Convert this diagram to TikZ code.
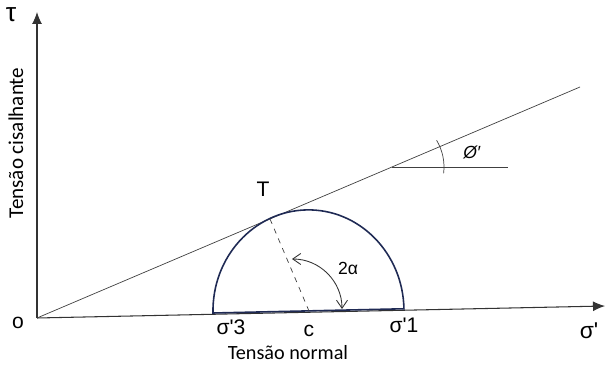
\documentclass[tikz,border=0pt]{standalone}
\usepackage{fontspec}
\setmainfont{Liberation Sans}
\newfontfamily\calib{Carlito}
\usepackage{tikz}
\usetikzlibrary{positioning,arrows.meta,calc}

\begin{document}
\begin{tikzpicture}[
      x=0.02cm, y=0.02cm,
      font=\fontsize{11}{13}\selectfont,
      axis/.style={line width=0.6pt, black!80, -{Latex[length=2.4mm,width=2mm]}},
      thin line/.style={line width=0.4pt, black!75},
      circ/.style={line width=0.9pt, mohrblue},
      barb/.style={line width=0.5pt, black!80, {Straight Barb[length=1.6mm,width=2.2mm]}-{Straight Barb[length=1.6mm,width=2.2mm]}},
      lbl/.style={inner sep=1pt},
    ]
    \definecolor{mohrblue}{RGB}{31,42,84}
    \useasboundingbox (0,0) rectangle (606,365);

    \coordinate (O)    at (37,47);
    \coordinate (ytop) at (37,353);
    \coordinate (xend) at (605,59);
    \coordinate (fend) at (580,278);
    \coordinate (s3)   at (213,52);
    \coordinate (s1)   at (404,56);
    \coordinate (c)    at (309,54);
    \coordinate (T)    at (270,146);
    \coordinate (a1)   at (292,106);
    \coordinate (a2)   at (342,56);
    \coordinate (P)    at (392,198);
    \coordinate (hend) at (508,198);

    \draw[axis] (O) -- (ytop);
    \draw[axis] (O) -- (xend);
    \draw[thin line] (O) -- (fend);

    \draw[circ] (s3) arc[start angle=181.2, end angle=1.2, x radius=95.5, y radius=101] -- cycle;
    \draw[thin line, dashed] (T) -- (c);
    \draw[barb] (a1) to[bend left=45] (a2);

    \draw[thin line] (P) -- (hend);
    \draw[thin line] ($(P)+(-7:52)$) arc[start angle=-7, end angle=31, radius=52];

    \node[lbl] (tau)  at (11,350) {\fontsize{15}{17}\selectfont τ};
    \node[lbl, rotate=90] (ylab) at (16,222) {\calib\fontsize{12}{14}\selectfont Tensão cisalhante};
    \node[lbl] (olab) at (18,42) {\fontsize{12}{14}\selectfont o};
    \node[lbl] (Tlab) at (263,176) {\fontsize{12}{14}\selectfont T};
    \node[lbl] (s3lab) at (231,38) {\fontsize{12}{14}\selectfont σ\textquotesingle 3};
    \node[lbl] (clab) at (309,34) {\fontsize{12}{14}\selectfont c};
    \node[lbl] (s1lab) at (404,40) {\fontsize{12}{14}\selectfont σ\textquotesingle 1};
    \node[lbl] (xlab) at (288,12) {\calib\fontsize{11.5}{13}\selectfont Tensão normal};
    \node[lbl] (sig) at (589,34) {\fontsize{13}{15}\selectfont σ\textquotesingle};
    \node[lbl] (alab) at (348,97) {\fontsize{10}{12}\selectfont 2α};
    \node[lbl] (phil) at (472,213) {\fontsize{10}{12}\selectfont \textit{Ø′}};
  \end{tikzpicture}
\end{document}
